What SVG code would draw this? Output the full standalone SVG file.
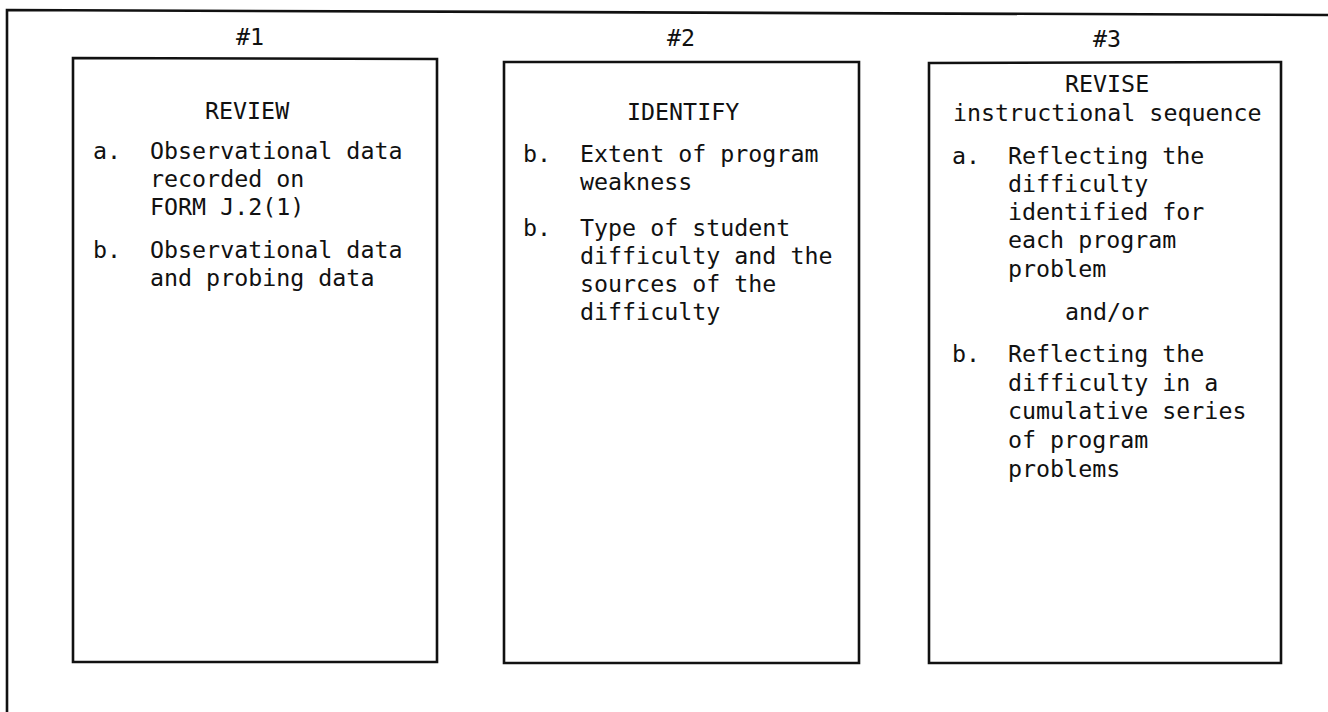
<svg xmlns="http://www.w3.org/2000/svg" width="1328" height="712" viewBox="0 0 1328 712">
  <style>
    .t { font-family: "DejaVu Sans Mono", "Liberation Mono", monospace; font-size: 23.3px; fill: #111; }
    .box { fill: #fff; stroke: #111; stroke-width: 2.6; }
    .rule { fill: none; stroke: #111; stroke-width: 2.6; }
  </style>
  <rect width="1328" height="712" fill="#fff"/>

  <!-- page frame: top rule and left rule -->
  <g id="frame">
    <path class="rule" d="M7,712 L7,10 L1328,15"/>
  </g>

  <g id="connectors"/>

  <!-- step 1 -->
  <g id="step1">
    <text class="t" x="236" y="45">#1</text>
    <path class="box" d="M73,58 L437,59 L437,662 L73,662 Z"/>
    <text class="t" x="205" y="119">REVIEW</text>
    <text class="t"><tspan x="93" y="159">a.</tspan><tspan x="150" y="159">Observational data</tspan></text>
    <text class="t" x="150" y="187">recorded on</text>
    <text class="t" x="150" y="215">FORM J.2(1)</text>
    <text class="t"><tspan x="93" y="258">b.</tspan><tspan x="150" y="258">Observational data</tspan></text>
    <text class="t" x="150" y="286">and probing data</text>
  </g>

  <!-- step 2 -->
  <g id="step2">
    <text class="t" x="667" y="46">#2</text>
    <path class="box" d="M504,62 L859,62 L859,663 L504,663 Z"/>
    <text class="t" x="627" y="120">IDENTIFY</text>
    <text class="t"><tspan x="523" y="162">b.</tspan><tspan x="580" y="162">Extent of program</tspan></text>
    <text class="t" x="580" y="190">weakness</text>
    <text class="t"><tspan x="523" y="236">b.</tspan><tspan x="580" y="236">Type of student</tspan></text>
    <text class="t" x="580" y="264">difficulty and the</text>
    <text class="t" x="580" y="292">sources of the</text>
    <text class="t" x="580" y="320">difficulty</text>
  </g>

  <!-- step 3 -->
  <g id="step3">
    <text class="t" x="1093" y="47">#3</text>
    <path class="box" d="M929,63 L1281,62 L1281,663 L929,663 Z"/>
    <text class="t" x="1065" y="92">REVISE</text>
    <text class="t" x="953" y="121">instructional sequence</text>
    <text class="t"><tspan x="952" y="164">a.</tspan><tspan x="1008" y="164">Reflecting the</tspan></text>
    <text class="t" x="1008" y="192">difficulty</text>
    <text class="t" x="1008" y="220">identified for</text>
    <text class="t" x="1008" y="248">each program</text>
    <text class="t" x="1008" y="277">problem</text>
    <text class="t" x="1065" y="320">and/or</text>
    <text class="t"><tspan x="952" y="362">b.</tspan><tspan x="1008" y="362">Reflecting the</tspan></text>
    <text class="t" x="1008" y="391">difficulty in a</text>
    <text class="t" x="1008" y="419">cumulative series</text>
    <text class="t" x="1008" y="448">of program</text>
    <text class="t" x="1008" y="477">problems</text>
  </g>
</svg>
